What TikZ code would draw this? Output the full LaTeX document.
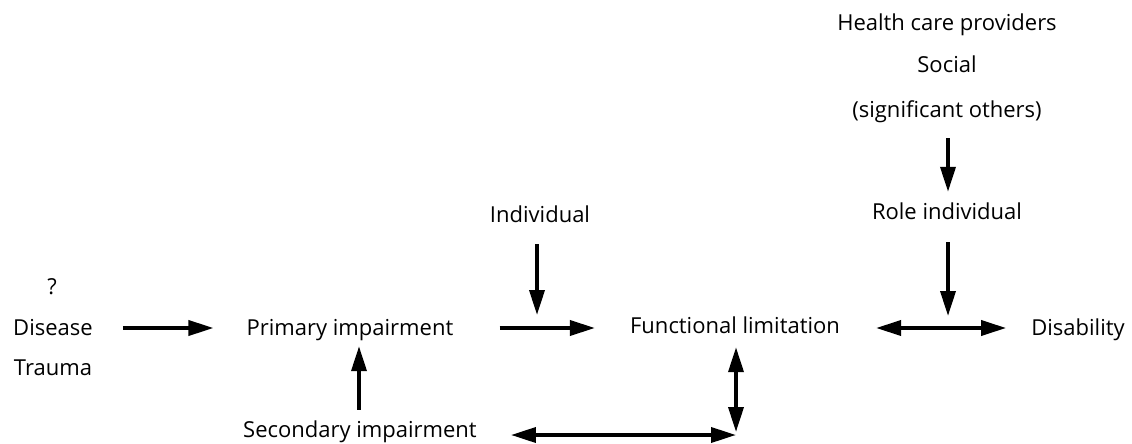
\documentclass[tikz,border=0pt]{standalone}
\usepackage{fontspec}
\setmainfont{Open Sans}
\usetikzlibrary{arrows.meta,calc}
\begin{document}
\begin{tikzpicture}[x=1pt,y=-1pt,
  lbl/.style={inner sep=0pt, font=\fontsize{22}{26}\selectfont, text height=15pt, text depth=5pt},
  tip/.tip={Triangle[length=25pt,width=15pt]},
  conn/.style={line width=3.6pt, -tip},
  both/.style={line width=3.6pt, tip-tip}]
  \useasboundingbox (0,0) rectangle (1132,444);

  % labels
  \node[lbl] (q)   at (52,289)   {?};
  \node[lbl] (dis) at (53,330)   {Disease};
  \node[lbl] (tra) at (53,370)   {Trauma};
  \node[lbl] (pri) at (350,330)  {Primary impairment};
  \node[lbl] (ind) at (540,217)  {Individual};
  \node[lbl] (fun) at (735,328)  {Functional limitation};
  \node[lbl] (dsb) at (1078,330) {Disability};
  \node[lbl] (hcp) at (947,26)   {Health care providers};
  \node[lbl] (soc) at (947,68)   {Social};
  \node[lbl] (sig) at (947,112)  {(significant others)};
  \node[lbl] (rol) at (947,214)  {Role individual};
  \node[lbl] (sec) at (360,432)  {Secondary impairment};

  % junction points on the horizontal arrows
  \coordinate (j1) at (537,315);
  \coordinate (j2) at (948,316);
  \coordinate (cor) at (736,435);

  % connectors
  \draw[conn] ($(dis.east |- 0,328)+(30,0)$) -- ($(pri.west |- 0,328)+(-33,0)$);
  \draw[conn] ($(pri.east |- 0,328)+(46,0)$) -- ($(fun.west |- 0,328)+(-35,0)$);
  \draw[conn] ($(ind.south -| j1)+(0,17)$) -- (j1);
  \draw[conn] ($(sec.north -| 359,0)+(0,-12)$) -- ($(pri.south -| 359,0)+(0,6)$);
  \draw[conn] ($(sig.south -| j2)+(0,16)$) -- ($(rol.north -| j2)+(0,-12)$);
  \draw[conn] ($(rol.south -| j2)+(0,18)$) -- (j2);
  \draw[both] ($(fun.east |- 0,328)+(36,0)$) -- ($(dsb.west |- 0,328)+(-25,0)$);
  \draw[both] ($(sec.east |- 0,435)+(34,0)$) -- (cor);
  \draw[both] (cor |- 0,432) -- ($(fun.south -| cor)+(0,9)$);
\end{tikzpicture}
\end{document}
